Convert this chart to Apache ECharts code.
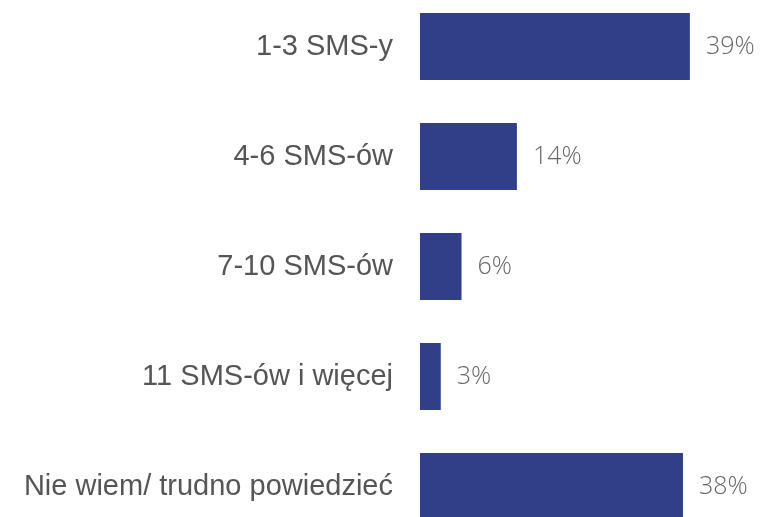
<!DOCTYPE html>
<html>
<head>
<meta charset="utf-8">
<script src="https://cdn.jsdelivr.net/npm/echarts@6/dist/echarts.min.js"></script>
<style>
  html, body { margin: 0; padding: 0; background: #fff; }
  #chart { width: 762px; height: 517px; }
</style>
</head>
<body>
<div id="chart"></div>
<script>
var categories = ['1-3 SMS-y', '4-6 SMS-ów', '7-10 SMS-ów', '11 SMS-ów i więcej', 'Nie wiem/ trudno powiedzieć'];
var values = [39, 14, 6, 3, 38];

var myChart = echarts.init(document.getElementById('chart'));
var option = {
    animation: false,
    grid: {
        left: 420,
        width: 346,
        top: -8.5,
        height: 550,
        outerBoundsMode: 'none',
        containLabel: false
    },
    xAxis: {
        type: 'value',
        min: 0,
        max: 50,
        show: false
    },
    yAxis: {
        type: 'category',
        inverse: true,
        data: categories,
        axisLine: { show: false },
        axisTick: { show: false },
        axisLabel: {
            margin: 27,
            fontSize: 29,
            color: '#555555',
            fontFamily: 'Liberation Sans'
        }
    },
    series: [
        {
            type: 'bar',
            data: values,
            barWidth: 67,
            itemStyle: { color: '#303f87' },
            label: {
                show: true,
                position: 'right',
                distance: 16,
                formatter: '{c}%',
                fontSize: 25,
                fontWeight: 300,
                color: '#666666',
                fontFamily: 'Open Sans'
            }
        }
    ]
};
myChart.setOption(option);
</script>
</body>
</html>
